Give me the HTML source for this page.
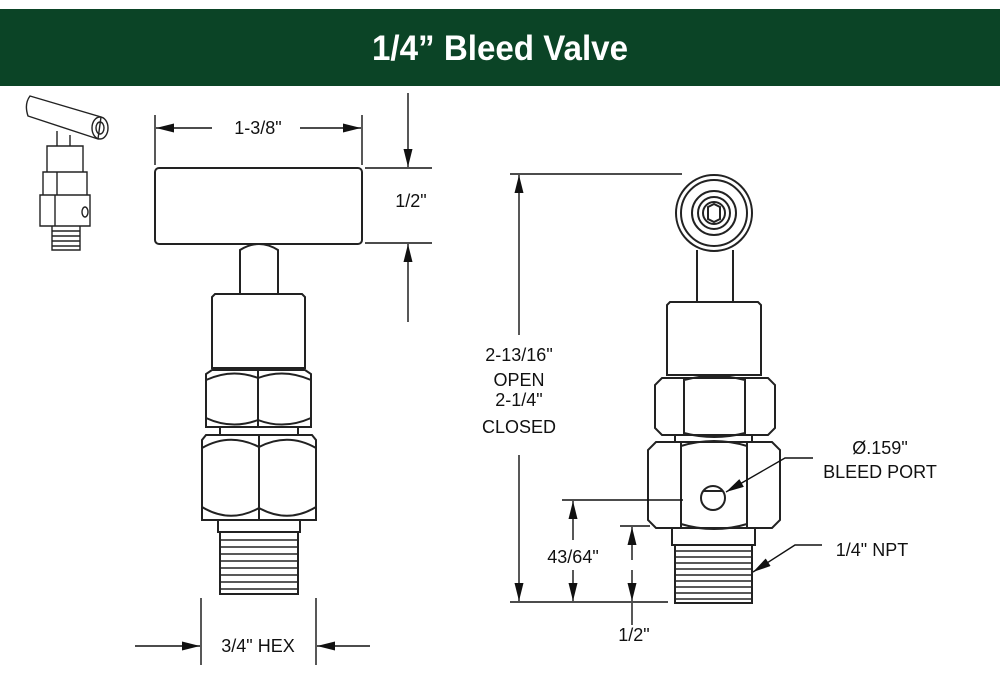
<!DOCTYPE html>
<html><head><meta charset="utf-8"><style>
html,body{margin:0;padding:0;background:#fff;width:1000px;height:684px;overflow:hidden}
svg{display:block}
text{font-family:"Liberation Sans",Arial,sans-serif;fill:#111}
</style></head><body>
<svg width="1000" height="684" viewBox="0 0 1000 684">
<defs>
<marker id="b" viewBox="0 0 14 7" refX="14" refY="3.5" markerWidth="24" markerHeight="9" markerUnits="userSpaceOnUse" orient="auto"><path d="M0,0 L14,3.5 L0,7 z" fill="#111"/></marker>
</defs>
<rect x="0" y="9" width="1000" height="77" fill="#0b4426"/>
<text x="500" y="60" text-anchor="middle" font-size="35" font-weight="bold" style="fill:#fff" textLength="256" lengthAdjust="spacingAndGlyphs">1/4” Bleed Valve</text>

<g fill="none" stroke="#222" stroke-width="1.4">
<!-- iso icon -->
<path d="M30,96 Q24,104 28,116 L98,139 L101,117 Z"/><ellipse cx="100" cy="128" rx="8" ry="11"/><ellipse cx="100" cy="128" rx="4" ry="6"/>
<path d="M57,131 V146 M70,135 V146"/>
<path d="M47,146 H83 V172 H47 Z M43,172 H87 V195 H43 Z M40,195 H90 V226 H40 Z M52,226 H80 V250 H52 Z"/>
<path d="M52,231 H80 M52,236 H80 M52,241 H80 M52,246 H80 M57,172 V195 M55,195 V226"/><ellipse cx="85" cy="212" rx="3" ry="5"/>
</g>
<g fill="none" stroke="#222" stroke-width="2">
<!-- left view -->
<rect x="155" y="168" width="207" height="76" rx="4"/>
<path d="M240,294 V250 Q259,238 278,250 V294"/>
<path d="M212,368 V297 L215,294 H302 L305,297 V368 Z"/>
<path d="M206,427 V374 L212,370 H305 L311,374 V427 Z M258,370 V427 M206,380 Q232,368 258,378 Q284,368 311,380 M206,418 Q232,430 258,420 Q284,430 311,418"/>
<path d="M220,427 V435 M298,427 V435"/>
<path d="M202,520 V440 L206,435 H312 L316,440 V520 Z M259,435 V520 M202,448 Q230,432 259,447 Q288,432 316,448 M202,507 Q230,524 259,508 Q288,524 316,507"/>
<path d="M218,520 V532 H300 V520 M220,532 V594 H298 V532"/>
</g>
<g fill="none" stroke="#222" stroke-width="1.5">
<path d="M220,540 H298 M220,547 H298 M220,554 H298 M220,561 H298 M220,568 H298 M220,575 H298 M220,582 H298 M220,589 H298"/>
</g>
<g fill="none" stroke="#222" stroke-width="2">
<!-- right view -->
<circle cx="714" cy="213" r="38"/><circle cx="714" cy="213" r="33"/><circle cx="714" cy="213" r="22"/><circle cx="714" cy="213" r="16"/><circle cx="714" cy="213" r="11"/>
<path d="M708,207 L714,204 L720,207 V219 L714,222 L708,219 Z"/>
<path d="M697,250 V302 M733,250 V302"/>
<path d="M667,375 V305 L670,302 H758 L761,305 V375 Z"/>
<path d="M655,428 V385 L662,378 H768 L775,385 V428 L768,435 H662 Z M684,378 V435 M745,378 V435 M684,380 Q714,372 745,380 M684,433 Q714,441 745,433"/>
<path d="M675,435 V442 M752,435 V442"/>
<path d="M648,520 V450 L656,442 H772 L780,450 V520 L772,528 H656 Z M681,442 V528 M747,442 V528 M681,446 Q714,436 747,446 M681,524 Q714,534 747,524"/>
<circle cx="713" cy="498" r="12"/><path d="M703,491 H723"/>
<path d="M672,528 V545 H755 V528 M675,545 V603 H752 V545"/>
</g>
<g fill="none" stroke="#222" stroke-width="1.5">
<path d="M675,551 H752 M675,557 H752 M675,563 H752 M675,569 H752 M675,575 H752 M675,581 H752 M675,587 H752 M675,593 H752 M675,599 H752"/>
</g>

<g fill="none" stroke="#111" stroke-width="1.4">
<path d="M155,115 V165 M362,115 V165"/>
<path d="M212,128 H156" marker-end="url(#b)"/><path d="M300,128 H361" marker-end="url(#b)"/>
<path d="M365,168 H432 M365,243 H432"/>
<path d="M408,93 V167" marker-end="url(#b)"/><path d="M408,322 V244" marker-end="url(#b)"/>
<path d="M201,598 V665 M316,598 V665"/>
<path d="M135,646 H200" marker-end="url(#b)"/><path d="M370,646 H317" marker-end="url(#b)"/>
<path d="M510,174 H682 M510,602 H668"/>
<path d="M519,335 V175" marker-end="url(#b)"/><path d="M519,455 V601" marker-end="url(#b)"/>
<path d="M562,500 H683"/>
<path d="M573,540 V501" marker-end="url(#b)"/><path d="M573,570 V601" marker-end="url(#b)"/>
<path d="M620,526 H650"/>
<path d="M632,560 V527" marker-end="url(#b)"/><path d="M632,570 V601" marker-end="url(#b)"/><path d="M632,603 V625"/>
<path d="M813,458 H785 L726,492" marker-end="url(#b)"/>
<path d="M822,545 H795 L753,572" marker-end="url(#b)"/>
</g>

<g font-size="18">
<text x="258" y="134" text-anchor="middle">1-3/8"</text>
<text x="411" y="207" text-anchor="middle">1/2"</text>
<text x="258" y="652" text-anchor="middle">3/4" HEX</text>
<text x="519" y="361" text-anchor="middle">2-13/16"</text>
<text x="519" y="386" text-anchor="middle">OPEN</text>
<text x="519" y="406" text-anchor="middle">2-1/4"</text>
<text x="519" y="433" text-anchor="middle">CLOSED</text>
<text x="573" y="563" text-anchor="middle">43/64"</text>
<text x="634" y="641" text-anchor="middle">1/2"</text>
<text x="880" y="454" text-anchor="middle">Ø.159"</text>
<text x="880" y="478" text-anchor="middle">BLEED PORT</text>
<text x="872" y="556" text-anchor="middle">1/4" NPT</text>
</g>
</svg>
</body></html>
